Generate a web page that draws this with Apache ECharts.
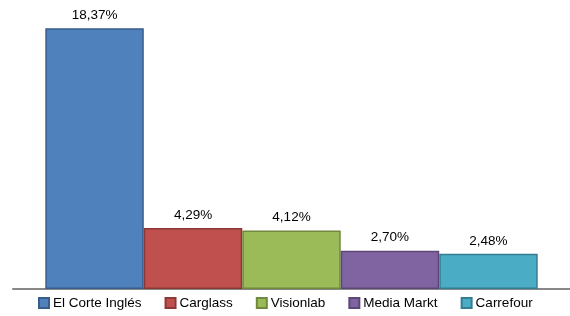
<!DOCTYPE html>
<html>
<head>
<meta charset="utf-8">
<title>Cuota</title>
<script src="https://cdn.jsdelivr.net/npm/echarts@6/dist/echarts.min.js"></script>
<style>
html,body{margin:0;padding:0;background:#fff;}
#chartDiv{width:570px;height:316px;}
</style>
</head>
<body>
<div id="chartDiv"></div>
<script>
// datos
var companies = ['El Corte Inglés', 'Carglass', 'Visionlab', 'Media Markt', 'Carrefour'];
var shares = [18.37, 4.29, 4.12, 2.70, 2.48];
var categories = [''];

// colores tipo Excel
var fillColors   = ['#4F81BD', '#C0504D', '#9BBB59', '#8064A2', '#4BACC6'];
var borderColors = ['#385D8A', '#8C3836', '#71893F', '#5C4776', '#357D91'];

function fmtPct(v){
	return v.toFixed(2).replace('.', ',') + '%';
}

var series = [];
for (var i = 0; i < companies.length; i++) {
	series.push({
		name: companies[i],
		type: 'bar',
		data: [shares[i]],
		barGap: '0%',
		barCategoryGap: '11.6%',
		itemStyle: {color: fillColors[i], borderColor: borderColors[i], borderWidth: 1.5},
		label: {
			show: true,
			position: 'top',
			distance: 6,
			color: '#000',
			fontFamily: 'Liberation Sans',
			fontSize: 13.5,
			formatter: function(p){ return fmtPct(p.value); }
		}
	});
}

var chart = echarts.init(document.getElementById('chartDiv'));
chart.setOption({
	animation: false,
	grid: {left: 13, right: 0, top: 5, bottom: 27},
	xAxis: {
		type: 'category',
		data: categories,
		axisLine: {lineStyle: {color: '#878787', width: 2}},
		axisTick: {show: false},
		axisLabel: {show: false}
	},
	yAxis: {
		type: 'value',
		min: 0,
		max: 20,
		show: false,
		splitLine: {show: false}
	},
	legend: {
		data: companies,
		left: 33,
		bottom: 1,
		itemWidth: 10,
		itemHeight: 10,
		itemGap: 23,
		icon: 'rect',
		textStyle: {fontFamily: 'Liberation Sans', fontSize: 13.5, color: '#000', padding: [0, 0, 0, -1]}
	},
	series: series
});
</script>
</body>
</html>
